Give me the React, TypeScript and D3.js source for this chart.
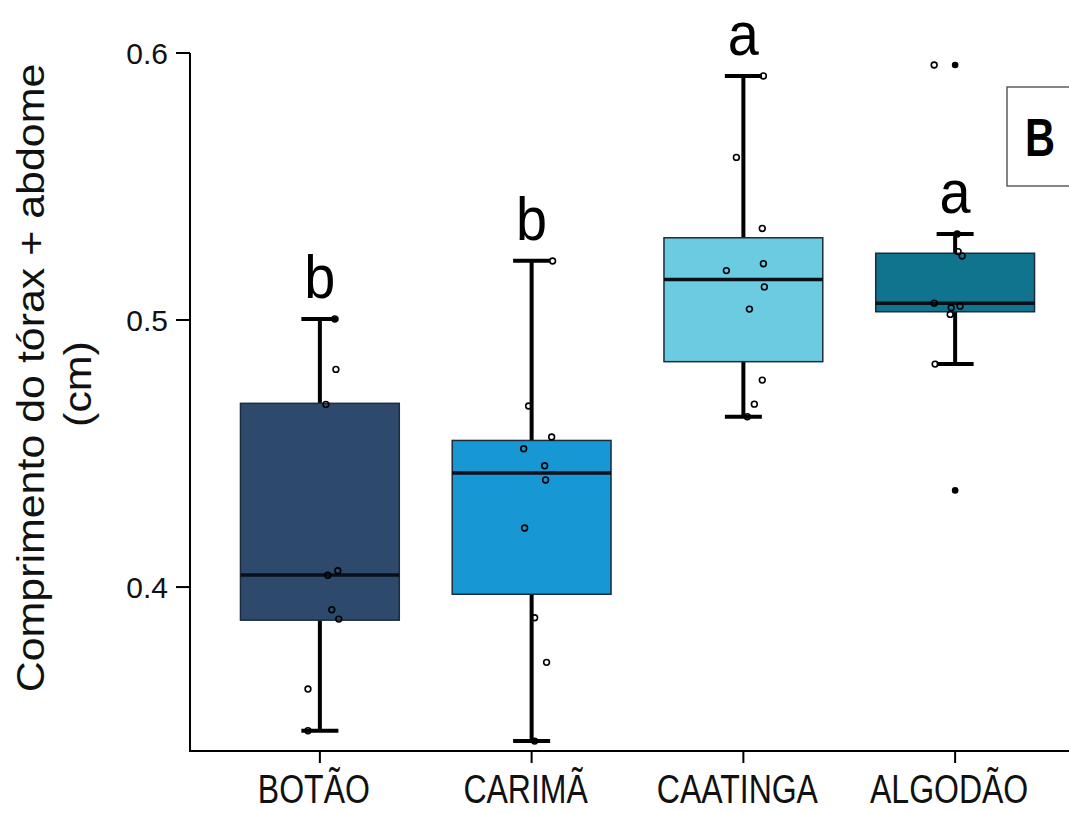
import React, { useEffect } from "react";
import * as d3 from "d3";

const categories = ["BOTÃO", "CARIMÃ", "CAATINGA", "ALGODÃO"];
const q1 = [0.3876, 0.3973, 0.4844, 0.5031];
const median = [0.4045, 0.4427, 0.5152, 0.5063];
const q3 = [0.4688, 0.4549, 0.5308, 0.525];
const whiskerLow = [0.3462, 0.3423, 0.4638, 0.4835];
const whiskerHigh = [0.5004, 0.5222, 0.5914, 0.5322];
const groupLetters = ["b", "b", "a", "a"];
const yTicks = [0.4, 0.5, 0.6];

const pointsBotao = [0.5004, 0.4815, 0.4684, 0.4061, 0.4044, 0.3915, 0.388, 0.3618, 0.3462];
const jitterBotao = [0.094, 0.101, 0.038, 0.113, 0.05, 0.075, 0.119, -0.075, -0.075];
const pointsCarima = [0.5221, 0.4678, 0.4562, 0.4518, 0.4454, 0.4401, 0.4221, 0.3885, 0.3718, 0.3423];
const jitterCarima = [0.132, -0.019, 0.126, -0.05, 0.082, 0.088, -0.044, 0.019, 0.094, 0.019];
const pointsCaatinga = [0.5914, 0.5609, 0.5343, 0.5211, 0.5185, 0.5124, 0.5041, 0.4775, 0.4685, 0.4638];
const jitterCaatinga = [0.126, -0.044, 0.119, 0.126, -0.107, 0.132, 0.038, 0.119, 0.069, 0.025];
const pointsAlgodao = [0.5322, 0.5256, 0.524, 0.5063, 0.5046, 0.5052, 0.5021, 0.4835, 0.5955];
const jitterAlgodao = [0.013, 0.019, 0.044, -0.132, -0.025, 0.031, -0.031, -0.126, -0.132];
const outliersAlgodao = [0.5955, 0.4362];

const pointSets = [pointsBotao, pointsCarima, pointsCaatinga, pointsAlgodao];
const jitterSets = [jitterBotao, jitterCarima, jitterCaatinga, jitterAlgodao];
const outlierSets = [[], [], [], outliersAlgodao];

const fills = ["#2D4A6D", "#1797D4", "#6BCBE0", "#10748F"];

const W = 1069;
const H = 813;

export default function App() {
  useEffect(() => {
    document.body.style.margin = "0";
  }, []);

  const x = d3
    .scaleBand<string>()
    .domain(categories)
    .range([214, 1061])
    .paddingInner(0.25)
    .paddingOuter(0.125);
  const y = d3.scaleLinear().domain([0.3386, 0.6]).range([751, 53]);
  const bw = x.bandwidth();
  const capW = 37;
  const axisX = 190;
  const axisY = 751;
  const font = "'Liberation Sans', Arial, sans-serif";

  return (
    <svg
      width={W}
      height={H}
      viewBox={`0 0 ${W} ${H}`}
      style={{ position: "absolute", left: 0, top: 0, display: "block", background: "#fff" }}
      fontFamily={font}
    >
      <rect x={0} y={0} width={W} height={H} fill="#fff" />

      {/* boxes */}
      {categories.map((c, i) => {
        const x0 = x(c)!;
        const cx = x0 + bw / 2;
        return (
          <g key={c}>
            <line x1={cx} x2={cx} y1={y(q3[i])} y2={y(whiskerHigh[i])} stroke="#000" strokeWidth={4} />
            <line x1={cx} x2={cx} y1={y(q1[i])} y2={y(whiskerLow[i])} stroke="#000" strokeWidth={4} />
            <line x1={cx - capW / 2} x2={cx + capW / 2} y1={y(whiskerHigh[i])} y2={y(whiskerHigh[i])} stroke="#000" strokeWidth={4} />
            <line x1={cx - capW / 2} x2={cx + capW / 2} y1={y(whiskerLow[i])} y2={y(whiskerLow[i])} stroke="#000" strokeWidth={4} />
            <rect
              x={x0}
              y={y(q3[i])}
              width={bw}
              height={y(q1[i]) - y(q3[i])}
              fill={fills[i]}
              stroke="#1d2b3a"
              strokeWidth={1.5}
            />
            <line x1={x0} x2={x0 + bw} y1={y(median[i])} y2={y(median[i])} stroke="#0a0f1a" strokeWidth={3.5} />
            {outlierSets[i].map((v, k) => (
              <circle key={"o" + k} cx={cx} cy={y(v)} r={3.3} fill="#000" />
            ))}
            {pointSets[i].map((v, k) => (
              <circle
                key={k}
                cx={cx + jitterSets[i][k] * bw}
                cy={y(v)}
                r={2.9}
                fill="none"
                stroke="#000"
                strokeWidth={1.6}
              />
            ))}
            <text
              transform={`translate(${cx},${y(whiskerHigh[i]) - 21}) scale(0.9,1)`}
              textAnchor="middle"
              fontSize={62}
              fill="#000"
            >
              {groupLetters[i]}
            </text>
          </g>
        );
      })}

      {/* axes */}
      <line x1={axisX} x2={axisX} y1={53} y2={axisY} stroke="#000" strokeWidth={2} />
      <line x1={axisX - 1} x2={W} y1={axisY} y2={axisY} stroke="#000" strokeWidth={2} />
      {yTicks.map((t) => (
        <g key={t}>
          <line x1={axisX - 14} x2={axisX} y1={y(t)} y2={y(t)} stroke="#000" strokeWidth={2} />
          <text x={168} y={y(t) + 11} textAnchor="end" fontSize={30} fill="#111">
            {d3.format(".1f")(t)}
          </text>
        </g>
      ))}
      {categories.map((c) => {
        const cx = x(c)! + bw / 2;
        return (
          <g key={c}>
            <line x1={cx} x2={cx} y1={axisY} y2={axisY + 12} stroke="#000" strokeWidth={2} />
            <text
              transform={`translate(${cx - 6},803) scale(0.8,1)`}
              textAnchor="middle"
              fontSize={40}
              fill="#111"
            >
              {c}
            </text>
          </g>
        );
      })}

      {/* y label */}
      <text transform="translate(44,378) rotate(-90) scale(1.13,1)" textAnchor="middle" fontSize={38} fill="#111">
        Comprimento do tórax + abdome
      </text>
      <text transform="translate(91,384) rotate(-90) scale(1.13,1)" textAnchor="middle" fontSize={38} fill="#111">
        (cm)
      </text>

      {/* panel label */}
      <rect x={1007} y={87} width={90} height={99} fill="#fff" stroke="#444" strokeWidth={1.3} />
      <text
        transform="translate(1040,156) scale(0.77,1)"
        textAnchor="middle"
        fontSize={54}
        fontWeight="bold"
        fill="#000"
      >
        B
      </text>
    </svg>
  );
}
